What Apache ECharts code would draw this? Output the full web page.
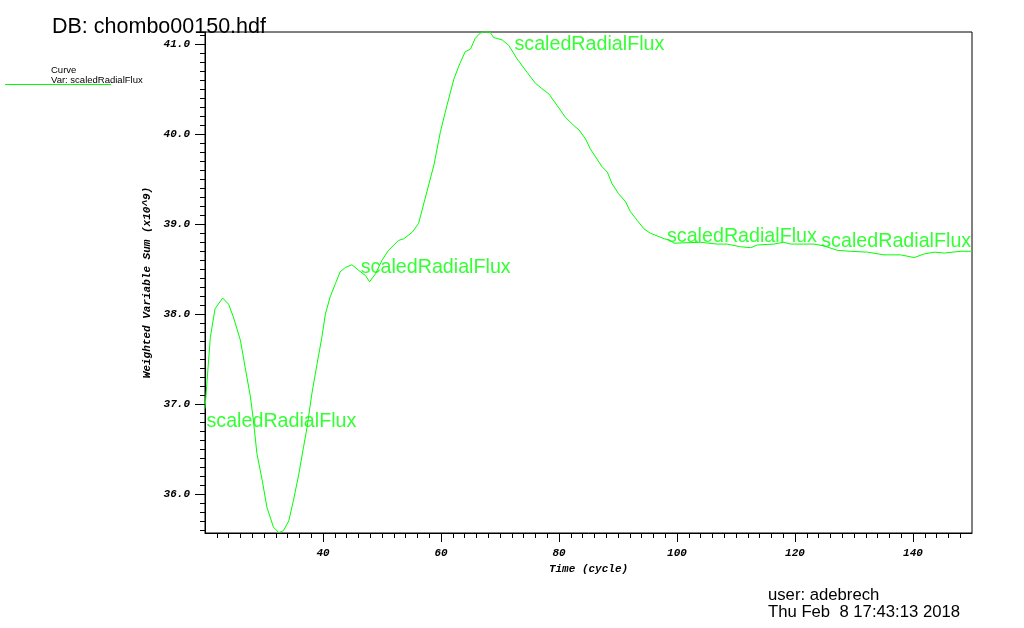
<!DOCTYPE html>
<html><head><meta charset="utf-8">
<script src="https://cdn.jsdelivr.net/npm/echarts@6/dist/echarts.min.js"></script>
<style>html,body{margin:0;padding:0;background:#fff}#c{width:1024px;height:628px}</style>
</head><body><div id="c"></div>
<script>
// ---- data ----
const cycles = [20.0,20.9,21.7,23.0,24.0,24.8,26.0,26.8,27.7,28.2,28.8,29.7,30.5,31.6,32.5,33.3,34.2,35.0,35.9,36.7,37.3,38.1,39.0,39.8,40.4,41.2,42.1,42.9,43.8,44.9,46.0,47.2,47.9,48.9,50.0,51.1,52.8,53.7,55.1,56.2,56.8,57.6,58.8,59.9,61.0,62.2,63.2,64.1,65.0,65.8,66.7,67.2,68.3,68.9,70.4,71.5,72.9,74.6,76.0,77.1,78.3,79.7,81.1,82.5,83.4,84.5,85.3,86.2,87.3,88.2,89.0,90.1,91.3,92.1,93.3,94.4,95.5,96.7,97.8,98.9,99.5,104.0,106.8,108.5,110.8,112.5,113.6,116.4,118.1,119.3,121.5,123.2,124.9,127.2,129.4,132.3,135.1,137.9,140.2,141.9,143.6,145.3,148.1,150.0];
const flux = [36.95,37.74,38.06,38.18,38.11,37.97,37.71,37.41,37.08,36.82,36.45,36.15,35.85,35.63,35.57,35.59,35.70,35.93,36.22,36.52,36.74,37.11,37.45,37.74,38.00,38.19,38.34,38.47,38.52,38.55,38.49,38.43,38.36,38.45,38.60,38.71,38.82,38.84,38.91,39.01,39.16,39.36,39.66,40.03,40.32,40.62,40.79,40.92,40.95,41.07,41.13,41.14,41.14,41.08,41.05,40.99,40.84,40.69,40.57,40.51,40.45,40.32,40.19,40.10,40.05,39.95,39.84,39.75,39.64,39.58,39.45,39.34,39.25,39.14,39.04,38.95,38.90,38.87,38.84,38.82,38.79,38.80,38.78,38.78,38.75,38.74,38.77,38.78,38.80,38.78,38.78,38.78,38.76,38.71,38.70,38.69,38.66,38.66,38.63,38.67,38.69,38.68,38.70,38.70];
const xTickLabels = [40,60,80,100,120,140];
const yTickLabels = [36,37,38,39,40,41];
const curveLabelX = [20.25,46.4,72.45,98.3,124.45];
const curveLabelY = [36.81,38.52,41.0,38.86,38.81];
const curveName = 'scaledRadialFlux';
const xRange = [20,150];
const yRange = [35.565,41.14];

// ---- build ----
const seriesData = cycles.map((c,i)=>[c,flux[i]]);
const labelData = curveLabelX.map((x,i)=>[x,curveLabelY[i]]);
const xMinor = []; for (let v=22; v<150; v+=2) if (v%20!==0) xMinor.push(v);
const yMinor = []; for (let k=356; k<=411; k++) if (k%10!==0) yMinor.push(k/10);

const axisFont = {fontFamily:'Liberation Mono', fontWeight:'bold', fontStyle:'italic', fontSize:11, color:'#000'};
const black = {color:'#000', width:1};

const chart = echarts.init(document.getElementById('c'), null, {renderer:'canvas'});
chart.setOption({
  animation:false,
  backgroundColor:'#fff',
  grid:{left:205, top:32, width:767, height:501, show:true, borderColor:'#000', borderWidth:1, backgroundColor:'transparent'},
  xAxis:[{
    type:'value', min:xRange[0], max:xRange[1], position:'bottom',
    name:'Time (cycle)', nameLocation:'middle', nameGap:21,
    nameTextStyle:axisFont,
    axisLine:{show:true, lineStyle:black},
    axisTick:{show:true, length:9, lineStyle:black, customValues:xTickLabels},
    axisLabel:{show:true, margin:15, customValues:xTickLabels, ...axisFont},
    splitLine:{show:false}
  },{
    type:'value', min:xRange[0], max:xRange[1], position:'bottom', gridIndex:0,
    axisLine:{show:false},
    axisTick:{show:true, length:5, lineStyle:black, customValues:xMinor},
    axisLabel:{show:false},
    splitLine:{show:false}
  }],
  yAxis:[{
    type:'value', min:yRange[0], max:yRange[1], position:'left',
    name:'Weighted Variable Sum (x10^9)', nameLocation:'middle', nameGap:52,
    nameTextStyle:axisFont,
    axisLine:{show:true, lineStyle:black},
    axisTick:{show:true, length:10, lineStyle:black, customValues:yTickLabels},
    axisLabel:{show:true, margin:15, customValues:yTickLabels, formatter:v=>v.toFixed(1), ...axisFont},
    splitLine:{show:false}
  },{
    type:'value', min:yRange[0], max:yRange[1], position:'left', gridIndex:0,
    axisLine:{show:false},
    axisTick:{show:true, length:5, lineStyle:black, customValues:yMinor},
    axisLabel:{show:false},
    splitLine:{show:false}
  }],
  series:[{
    type:'line', name:curveName, data:seriesData, xAxisIndex:0, yAxisIndex:0,
    showSymbol:false, symbol:'none', lineStyle:{color:'#00ff00', width:1}, clip:false
  },{
    type:'scatter', data:labelData, xAxisIndex:0, yAxisIndex:0, symbolSize:0, silent:true, z:5,
    label:{show:true, position:'right', distance:0, formatter:curveName,
      fontFamily:'Liberation Sans', fontSize:19.7, color:'#00ff00'}
  }],
  graphic:[
    {type:'text', x:52, y:16.5, style:{text:'DB: chombo00150.hdf', font:'21.5px "Liberation Sans"', fill:'#000'}},
    {type:'text', x:51, y:65.5, style:{text:'Curve', font:'9.5px "Liberation Sans"', fill:'#000'}},
    {type:'text', x:51, y:75, style:{text:'Var: '+curveName, font:'9.5px "Liberation Sans"', fill:'#000'}},
    {type:'line', shape:{x1:5, y1:84.5, x2:111, y2:84.5}, style:{stroke:'#00ff00', lineWidth:1}},
    {type:'text', x:768, y:586.5, style:{text:'user: adebrech', font:'16.7px "Liberation Sans"', fill:'#000'}},
    {type:'text', x:768, y:604, style:{text:'Thu Feb  8 17:43:13 2018', font:'16.7px "Liberation Sans"', fill:'#000'}}
  ]
});
</script>
</body></html>
